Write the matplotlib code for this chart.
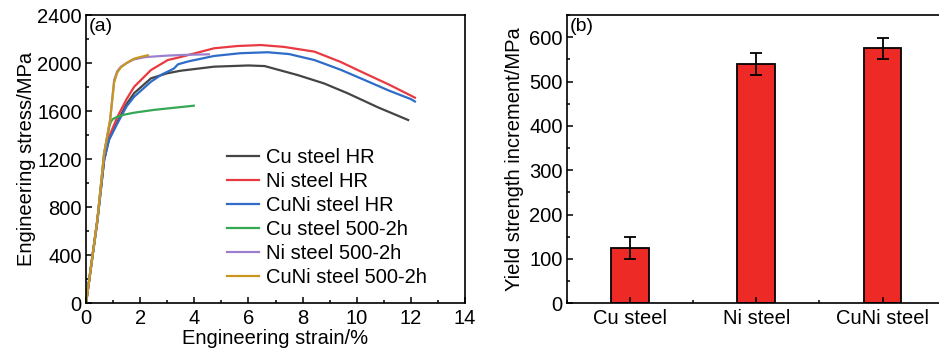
import matplotlib
matplotlib.use("Agg")
import matplotlib.pyplot as plt
from matplotlib.ticker import MultipleLocator

plt.rcParams['font.family'] = ['Liberation Sans', 'DejaVu Sans']

# ---- data: stress-strain curves (strain %, stress MPa) ----
cu_hr_strain = [0, 0.42, 0.67, 0.85, 1.16, 1.5, 1.78, 2.4, 3.0, 3.49, 4.73, 6.0, 6.6, 7.82, 8.8, 9.67, 10.8, 11.9]
cu_hr_stress = [0, 694, 1193, 1370, 1510, 1660, 1750, 1873, 1915, 1936, 1970, 1980, 1975, 1900, 1830, 1748, 1630, 1526]

ni_hr_strain = [0, 0.42, 0.67, 0.85, 1.16, 1.5, 1.78, 2.4, 3.02, 3.49, 4.73, 5.6, 6.46, 7.3, 8.44, 9.4, 10.29, 11.2, 12.03, 12.15]
ni_hr_stress = [0, 694, 1200, 1385, 1553, 1700, 1803, 1942, 2025, 2050, 2123, 2142, 2150, 2135, 2095, 2010, 1915, 1820, 1726, 1712]

cuni_hr_strain = [0, 0.42, 0.67, 0.85, 1.16, 1.5, 1.78, 2.4, 2.8, 3.14, 3.25, 3.4, 3.8, 4.73, 5.7, 6.71, 7.5, 8.44, 9.4, 10.29, 11.2, 12.0, 12.15]
cuni_hr_stress = [0, 680, 1193, 1359, 1498, 1640, 1720, 1845, 1905, 1942, 1955, 1990, 2015, 2059, 2082, 2090, 2075, 2025, 1945, 1859, 1770, 1700, 1680]

cu_ht_strain = [0, 0.42, 0.67, 0.79, 0.86, 0.92, 1.0, 1.16, 1.4, 1.78, 2.5, 3.0, 3.64, 3.98]
cu_ht_stress = [0, 694, 1249, 1387, 1470, 1512, 1535, 1553, 1570, 1587, 1610, 1622, 1637, 1645]

ni_ht_strain = [0, 0.42, 0.67, 0.89, 1.04, 1.15, 1.29, 1.5, 1.76, 2.2, 3.0, 3.64, 4.54]
ni_ht_stress = [0, 694, 1249, 1526, 1859, 1930, 1970, 2000, 2030, 2050, 2062, 2068, 2073]

cuni_ht_strain = [0, 0.42, 0.67, 0.89, 1.04, 1.15, 1.29, 1.5, 1.76, 2.0, 2.28]
cuni_ht_stress = [0, 694, 1249, 1526, 1840, 1920, 1965, 2000, 2035, 2050, 2065]

curve_labels = ["Cu steel HR", "Ni steel HR", "CuNi steel HR",
                "Cu steel 500-2h", "Ni steel 500-2h", "CuNi steel 500-2h"]
curve_colors = ["#454545", "#e83a40", "#2e6cc8", "#35a853", "#9b80cf", "#c8961f"]

# ---- data: yield strength increment ----
bar_categories = ["Cu steel", "Ni steel", "CuNi steel"]
bar_values = [125, 540, 575]
bar_errors = [24, 25, 24]

FS = 14.5

fig = plt.figure(figsize=(9.39, 3.54), dpi=100)

# ---------- panel (a) ----------
ax1 = fig.add_axes([0.0916, 0.1431, 0.4036, 0.8145])
curves = [(cu_hr_strain, cu_hr_stress), (ni_hr_strain, ni_hr_stress),
          (cuni_hr_strain, cuni_hr_stress), (cu_ht_strain, cu_ht_stress),
          (ni_ht_strain, ni_ht_stress), (cuni_ht_strain, cuni_ht_stress)]
for (xs, ys), lab, col in zip(curves, curve_labels, curve_colors):
    ax1.plot(xs, ys, color=col, lw=1.6, label=lab, solid_joinstyle='round')
ax1.set_xlim(0, 14)
ax1.set_ylim(0, 2400)
ax1.xaxis.set_major_locator(MultipleLocator(2))
ax1.xaxis.set_minor_locator(MultipleLocator(1))
ax1.yaxis.set_major_locator(MultipleLocator(400))
ax1.yaxis.set_minor_locator(MultipleLocator(200))
ax1.tick_params(which='both', direction='in', labelsize=FS, width=1.1)
ax1.tick_params(axis='x', pad=4)
ax1.tick_params(axis='y', pad=3)
ax1.tick_params(which='major', length=4)
ax1.tick_params(which='minor', length=2.5)
ax1.set_xlabel("Engineering strain/%", fontsize=FS, labelpad=1)
ax1.set_ylabel("Engineering stress/MPa", fontsize=FS, labelpad=1)
for s in ax1.spines.values():
    s.set_linewidth(1.2)
ax1.text(0.008, 0.99, "(a)", transform=ax1.transAxes, fontsize=14, va='top', ha='left')
leg = ax1.legend(loc='center left', bbox_to_anchor=(0.371, 0.297), frameon=False,
                 fontsize=FS, handlelength=1.6, handletextpad=0.35, labelspacing=0.25,
                 borderpad=0, borderaxespad=0)

# ---------- panel (b) ----------
ax2 = fig.add_axes([0.6038, 0.1431, 0.4033, 0.8145])
xpos = [1, 2, 3]
ax2.bar(xpos, bar_values, width=0.3, color="#ee2a26", edgecolor="black", linewidth=1.3,
        yerr=bar_errors, capsize=4, error_kw=dict(elinewidth=1.3, capthick=1.3, ecolor='black'))
ax2.set_xlim(0.5, 3.5)
ax2.set_ylim(0, 650)
ax2.set_xticks(xpos)
ax2.set_xticklabels(bar_categories)
ax2.xaxis.set_minor_locator(MultipleLocator(0.5))
ax2.yaxis.set_major_locator(MultipleLocator(100))
ax2.yaxis.set_minor_locator(MultipleLocator(50))
ax2.tick_params(which='both', direction='in', labelsize=FS, width=1.1)
ax2.tick_params(axis='x', pad=4)
ax2.tick_params(axis='y', pad=3)
ax2.tick_params(which='major', length=4)
ax2.tick_params(which='minor', length=2.5)
ax2.set_ylabel("Yield strength increment/MPa", fontsize=FS, labelpad=4)
for s in ax2.spines.values():
    s.set_linewidth(1.2)
ax2.text(0.008, 0.99, "(b)", transform=ax2.transAxes, fontsize=14, va='top', ha='left')

fig.savefig("out.png", dpi=100)
